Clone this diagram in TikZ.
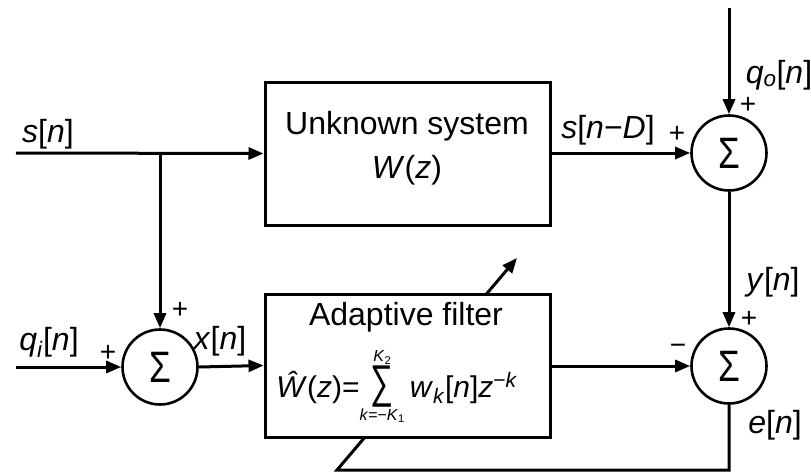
\documentclass[tikz,border=0pt]{standalone}
\usepackage{fontspec}
\setmainfont{Liberation Sans}
\usetikzlibrary{arrows.meta,positioning,backgrounds}
\newcommand{\vv}[1]{\textit{#1}}
\newcommand{\sumlim}[2]{$\mathop{\mbox{\scalebox{0.7}[1]{\fontsize{46}{46}\selectfont ∑}}}\limits_{\mbox{\fontsize{16}{16}\selectfont #1}}^{\mbox{\fontsize{16}{16}\selectfont #2}}$}

\begin{document}
\begin{tikzpicture}[x=1pt, y=-1pt,
  font=\fontsize{32}{38}\selectfont,
  blk/.style={draw, line width=3pt, minimum width=285pt, minimum height=143pt,
              inner sep=0pt, fill=white},
  sumc/.style={draw, circle, line width=2.6pt, minimum size=75pt, inner sep=0pt,
               fill=white, font=\fontsize{44}{44}\selectfont},
  sgn/.style={font=\fontsize{28}{28}\selectfont, inner sep=0pt},
  sig/.style={inner sep=0pt, anchor=base},
  line width=3pt,
  >={Triangle[length=15pt,width=12pt]}]
\useasboundingbox (0,0) rectangle (811,474);

% ---------------- blocks ----------------
\node[blk] (unk) at (407.5,153.5) {};
\node[sig] (unkA) at (407,134) {Unknown system};
\node[sig] (unkB) at (407,178) {\vv{W}(\vv{z})};
\node[blk] (ada) at (407.5,365.5) {};
\node[sig] (adaA) at (406,325) {Adaptive filter};
\node[sig, font=\fontsize{30}{36}\selectfont] (adaB) at (397,397)
  {\vv{Ŵ}(\vv{z})=\sumlim{\vv{k}=−\vv{K}\textsubscript{1}}{\vv{K}\textsubscript{2}}\,\vv{w}\textsubscript{\vv{k}}[\vv{n}]\vv{z}\textsuperscript{−\vv{k}}};

% ---------------- summing junctions ----------------
\node[sumc] (sum1) at (160,367) {\scalebox{0.8}[1]{Σ}};
\node[sumc] (sum2) at (729,153) {\scalebox{0.8}[1]{Σ}};
\node[sumc] (sum3) at (729,366) {\scalebox{0.8}[1]{Σ}};

% free ends
\coordinate (sin) at (16,153);
\coordinate (qin) at (16,367);
\coordinate (qon) at (729,8);
\coordinate (fb) at (337,470);
\coordinate (tip) at (517,258);

% ---------------- connectors ----------------
\draw[->] (sin) -- (unk.west);
\draw[->] (sum1 |- sin) -- (sum1.north);
\draw[->] (qin) -- (sum1.west);
\draw[->] (sum1.east) -- (ada.west);
\draw[->] (unk.east |- sum2) -- (sum2.west);
\draw[->] (qon) -- (sum2.north);
\draw[->] (sum2.south) -- (sum3.north);
\draw[->] (ada.east |- sum3) -- (sum3.west);
\begin{scope}[on background layer]
\draw[->, draw=black, line width=3pt] (sum3.south) |- (fb) -- (tip);
\end{scope}

% ---------------- labels ----------------
\node[sig] (lsn) at (48,142) {\vv{s}[\vv{n}]};
\node[sig] (lqi) at (49,350) {\vv{q}\textsubscript{\vv{i}}[\vv{n}]};
\node[sig] (lxn) at (220,349) {\vv{x}[\vv{n}]};
\node[sig] (lsd) at (608,138) {\vv{s}[\vv{n}−\vv{D}]};
\node[sig] (lqo) at (779,83) {\vv{q}\textsubscript{\vv{o}}[\vv{n}]};
\node[sig] (lyn) at (773,290) {\vv{y}[\vv{n}]};
\node[sig] (len) at (775,433) {\vv{e}[\vv{n}]};
\node[sgn] (p1) at (108,353) {+};
\node[sgn] (p2) at (180,310) {+};
\node[sgn] (p3) at (677,134) {+};
\node[sgn] (p4) at (748,105) {+};
\node[sgn] (p5) at (749,319) {+};
\node[sgn] (m1) at (678,349) {−};
\end{tikzpicture}
\end{document}
